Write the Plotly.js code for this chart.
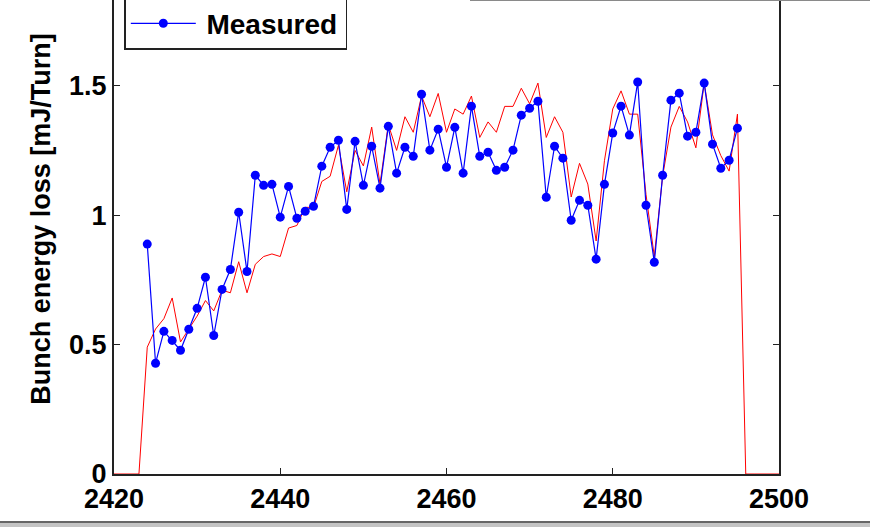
<!DOCTYPE html>
<html>
<head>
<meta charset="utf-8">
<script src="https://cdn.plot.ly/plotly-3.0.1.min.js"></script>
<style>
  html, body { margin: 0; padding: 0; width: 870px; height: 527px; overflow: hidden; background: #fff; }
  #chart { position: absolute; left: 0; top: -60px; width: 870px; height: 587px; }
  .edge-top { position: absolute; left: 470px; top: 0; width: 400px; height: 1px; background: #8a8a8a; }
  .edge-bottom { position: absolute; left: 0; top: 521px; width: 870px; height: 6px; background: #c4c4c4;
                 border-top: 2px solid #666; box-sizing: border-box; }
</style>
</head>
<body>
<div id="chart"></div>
<div class="edge-top"></div>
<div class="edge-bottom"></div>
<script>
// Bunch numbers for the simulated curve
const simBunch = [
  2420, 2421, 2422, 2423, 2424, 2425, 2426, 2427, 2428, 2429,
  2430, 2431, 2432, 2433, 2434, 2435, 2436, 2437, 2438, 2439,
  2440, 2441, 2442, 2443, 2444, 2445, 2446, 2447, 2448, 2449,
  2450, 2451, 2452, 2453, 2454, 2455, 2456, 2457, 2458, 2459,
  2460, 2461, 2462, 2463, 2464, 2465, 2466, 2467, 2468, 2469,
  2470, 2471, 2472, 2473, 2474, 2475, 2476, 2477, 2478, 2479,
  2480, 2481, 2482, 2483, 2484, 2485, 2486, 2487, 2488, 2489,
  2490, 2491, 2492, 2493, 2494, 2495, 2496, 2497, 2498, 2499, 2500
];
// Simulated energy loss per bunch [mJ/turn]
const simLoss = [
  0, 0, 0, 0, 0.49, 0.56, 0.60, 0.68, 0.51, 0.56,
  0.61, 0.67, 0.63, 0.71, 0.70, 0.82, 0.70, 0.81, 0.84, 0.85,
  0.84, 0.95, 0.96, 1.03, 1.03, 1.13, 1.15, 1.27, 1.09, 1.25,
  1.19, 1.34, 1.12, 1.35, 1.25, 1.38, 1.32, 1.46, 1.38, 1.47,
  1.32, 1.41, 1.39, 1.46, 1.30, 1.36, 1.32, 1.42, 1.42, 1.49,
  1.43, 1.51, 1.30, 1.38, 1.32, 1.07, 1.20, 1.12, 0.90, 1.21,
  1.41, 1.48, 1.39, 1.39, 1.08, 0.84, 1.15, 1.34, 1.42, 1.36,
  1.26, 1.51, 1.31, 1.23, 1.17, 1.39, 0, 0, 0, 0, 0
];

// Bunch numbers for the measured points
const measBunch = [
  2424, 2425, 2426, 2427, 2428, 2429, 2430, 2431, 2432, 2433,
  2434, 2435, 2436, 2437, 2438, 2439, 2440, 2441, 2442, 2443,
  2444, 2445, 2446, 2447, 2448, 2449, 2450, 2451, 2452, 2453,
  2454, 2455, 2456, 2457, 2458, 2459, 2460, 2461, 2462, 2463,
  2464, 2465, 2466, 2467, 2468, 2469, 2470, 2471, 2472, 2473,
  2474, 2475, 2476, 2477, 2478, 2479, 2480, 2481, 2482, 2483,
  2484, 2485, 2486, 2487, 2488, 2489, 2490, 2491, 2492, 2493,
  2494, 2495
];
// Measured energy loss per bunch [mJ/turn]
const measLoss = [
  0.888, 0.428, 0.551, 0.516, 0.478, 0.559, 0.640, 0.760, 0.535, 0.713,
  0.790, 1.011, 0.782, 1.154, 1.115, 1.119, 0.992, 1.111, 0.988, 1.015,
  1.034, 1.189, 1.262, 1.289, 1.022, 1.285, 1.115, 1.266, 1.104, 1.343,
  1.162, 1.262, 1.227, 1.467, 1.251, 1.332, 1.185, 1.339, 1.162, 1.421,
  1.227, 1.243, 1.173, 1.185, 1.251, 1.386, 1.413, 1.440, 1.069, 1.266,
  1.220, 0.980, 1.057, 1.038, 0.830, 1.119, 1.317, 1.421, 1.309, 1.514,
  1.038, 0.818, 1.154, 1.444, 1.471, 1.305, 1.320, 1.510, 1.274, 1.181,
  1.212, 1.336
];

// Axis ticks
const xTicks = [2420, 2440, 2460, 2480, 2500];
const xTickText = ['2420', '2440', '2460', '2480', '2500'];
const yTicks = [0, 0.5, 1, 1.5, 2];
const yTickText = ['0', '0.5', '1', '1.5', '2'];

const FONT = 'Liberation Sans, Arial, Helvetica, sans-serif';
const AXIS_COLOR = '#222222';

const traces = [
  {
    x: simBunch, y: simLoss, name: '\u2009Simulated',
    type: 'scatter', mode: 'lines',
    line: { color: '#ff0000', width: 1 }
  },
  {
    x: measBunch, y: measLoss, name: '\u2009Measured',
    type: 'scatter', mode: 'lines+markers',
    line: { color: '#0000ff', width: 1.2 },
    marker: { color: '#0000ff', size: 9 }
  }
];

const axisCommon = {
  showgrid: false, zeroline: false,
  showline: true, linecolor: AXIS_COLOR, mirror: 'ticks',
  ticks: 'inside', ticklen: 6, tickwidth: 1, tickcolor: AXIS_COLOR,
  tickfont: { family: FONT, size: 27, weight: 700, color: '#000' },
  automargin: false
};

const layout = {
  width: 870, height: 587,
  margin: { l: 114, r: 90.5, t: 24.1, b: 53.3 },
  paper_bgcolor: '#ffffff', plot_bgcolor: '#ffffff',
  showlegend: true,
  xaxis: Object.assign({}, axisCommon, {
    range: [2420, 2500], tickmode: 'array', tickvals: xTicks, ticktext: xTickText,
    linewidth: 1.5, layer: 'below traces'
  }),
  yaxis: Object.assign({}, axisCommon, {
    range: [0, 1.97], tickmode: 'array', tickvals: yTicks, ticktext: yTickText,
    linewidth: 2,
    title: { text: 'Bunch energy loss [mJ/Turn]', font: { family: FONT, size: 27, weight: 700, color: '#000' }, standoff: 11 }
  }),
  legend: {
    x: 0.0155, y: 0.832, xanchor: 'left', yanchor: 'bottom',
    bgcolor: '#ffffff', bordercolor: AXIS_COLOR, borderwidth: 1.5,
    font: { family: FONT, size: 28, weight: 700, color: '#000' },
    itemwidth: 65, tracegroupgap: 0
  }
};

Plotly.newPlot('chart', traces, layout, { displayModeBar: false, staticPlot: true });
</script>
</body>
</html>
